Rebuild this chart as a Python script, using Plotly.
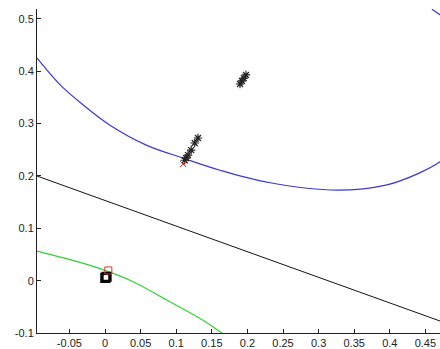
import plotly.graph_objects as go

blue_x = [-0.10, -0.0955, -0.063, -0.03, 0.007, 0.058, 0.11, 0.1615, 0.232, 0.326, 0.396, 0.442, 0.4705, 0.49, 0.51]
blue_y = [0.432, 0.425, 0.374, 0.335, 0.297, 0.259, 0.234, 0.211, 0.187, 0.173, 0.183, 0.206, 0.227, 0.25, 0.285]
# Blue closed curve, small piece re-entering at top right
blue_top_x = [0.48, 0.4705, 0.4607, 0.455]
blue_top_y = [0.499, 0.508, 0.517, 0.526]

# Black straight line
black_x = [-0.10, 0.48]
black_y = [0.2022, -0.0817]

# Green curve
green_x = [-0.10, -0.0955, -0.054, -0.007, 0.0395, 0.0866, 0.133, 0.159, 0.18]
green_y = [0.058, 0.0564, 0.042, 0.023, -0.002, -0.037, -0.072, -0.095, -0.115]

# Asterisk clusters
ast_x = [0.112, 0.1138, 0.1166, 0.121, 0.126, 0.1306, 0.1896, 0.1924, 0.195, 0.198]
ast_y = [0.230, 0.234, 0.240, 0.2495, 0.263, 0.2725, 0.3757, 0.3815, 0.387, 0.393]

# Red cross
redx_x = [0.1096]
redx_y = [0.2228]

# Squares
red_sq_x = [0.0047]
red_sq_y = [0.0195]
blk_sq_x = [0.0005, 0.0022]
blk_sq_y = [0.0055, 0.0075]

x_ticks = [-0.05, 0, 0.05, 0.1, 0.15, 0.2, 0.25, 0.3, 0.35, 0.4, 0.45]
x_labels = ["-0.05", "0", "0.05", "0.1", "0.15", "0.2", "0.25", "0.3", "0.35", "0.4", "0.45"]
y_ticks = [-0.1, 0, 0.1, 0.2, 0.3, 0.4, 0.5]
y_labels = ["-0.1", "0", "0.1", "0.2", "0.3", "0.4", "0.5"]

fig = go.Figure()
fig.add_trace(go.Scatter(x=blue_x, y=blue_y, mode="lines",
                         line=dict(color="#3a3ad0", width=1.2, shape="spline", smoothing=1.0)))
fig.add_trace(go.Scatter(x=blue_top_x, y=blue_top_y, mode="lines",
                         line=dict(color="#3a3ad0", width=1.2)))
fig.add_trace(go.Scatter(x=black_x, y=black_y, mode="lines", line=dict(color="#111111", width=1.1)))
fig.add_trace(go.Scatter(x=green_x, y=green_y, mode="lines",
                         line=dict(color="#33d033", width=1.2, shape="spline", smoothing=1.0)))
fig.add_trace(go.Scatter(x=ast_x, y=ast_y, mode="markers",
                         marker=dict(symbol="asterisk-open", size=7, color="#222222", line=dict(color="#222222", width=1.2))))
fig.add_trace(go.Scatter(x=redx_x, y=redx_y, mode="markers",
                         marker=dict(symbol="x-thin-open", size=6, color="#e03030", line=dict(color="#e03030", width=1))))
fig.add_trace(go.Scatter(x=blk_sq_x, y=blk_sq_y, mode="markers",
                         marker=dict(symbol="square-open", size=8, color="#000000", line=dict(color="#000000", width=2.2))))
fig.add_trace(go.Scatter(x=red_sq_x, y=red_sq_y, mode="markers",
                         marker=dict(symbol="square-open", size=7, color="#e03030", line=dict(color="#e03030", width=1))))

fig.update_layout(
    width=440, height=349,
    margin=dict(l=37, r=0, t=9, b=16, autoexpand=False),
    paper_bgcolor="white", plot_bgcolor="white",
    showlegend=False,
    font=dict(family="Liberation Sans, Arial", size=11, color="#222222"),
)
fig.update_xaxes(range=[-0.0955, 0.4705], tickvals=x_ticks, ticktext=x_labels,
                 ticks="inside", ticklen=4, tickcolor="#222222", showline=True,
                 linecolor="#222222", linewidth=1, showgrid=False, zeroline=False, automargin=False)
fig.update_yaxes(range=[-0.1, 0.519], tickvals=y_ticks, ticktext=y_labels,
                 ticks="inside", ticklen=4, tickcolor="#222222", showline=True,
                 linecolor="#222222", linewidth=1, showgrid=False, zeroline=False, automargin=False)

fig.write_html("out.html")
